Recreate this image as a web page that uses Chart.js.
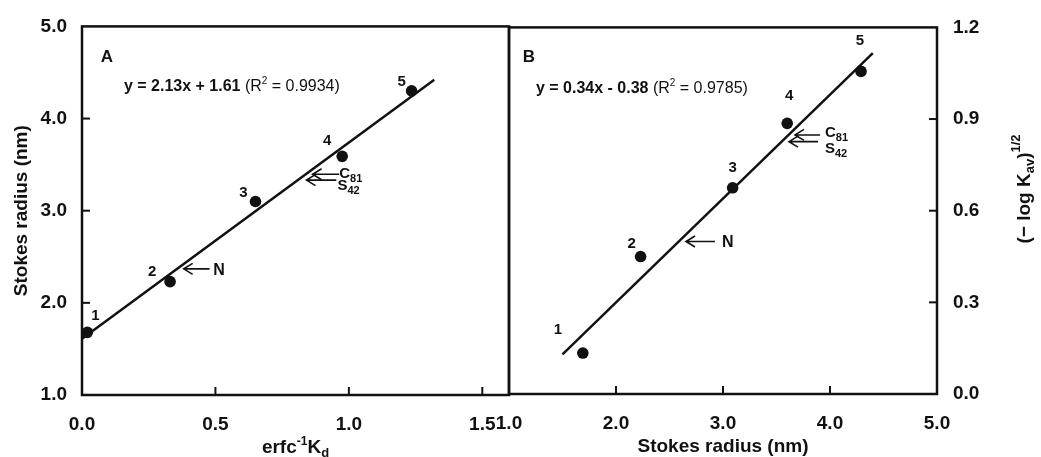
<!DOCTYPE html>
<html>
<head>
<meta charset="utf-8">
<script src="https://cdn.jsdelivr.net/npm/chart.js@4.4.1/dist/chart.umd.min.js"></script>
<style>
html, body { margin: 0; padding: 0; background: #fff; }
#wrap { position: relative; width: 1041px; height: 457px; }
canvas { position: absolute; left: 0; top: 0; }
</style>
</head>
<body>
<div id="wrap">
  <canvas id="chartA" width="1041" height="457"></canvas>
  <canvas id="chartB" width="1041" height="457"></canvas>
</div>
<script>
// **Data: panel A (Stokes radius vs erfc-1 Kd)**
const pointNames = ["1", "2", "3", "4", "5"];
const erfcKd = [0.02, 0.33, 0.65, 0.975, 1.235];
const stokesA = [1.68, 2.23, 3.10, 3.59, 4.30];
const fitAx = [0, 1.32];
const fitAy = [1.61, 4.42];
const xTicksA = [0, 0.5, 1.0, 1.5];
const yTicksA = [1, 2, 3, 4, 5];

// **Data: panel B ((-log Kav)^1/2 vs Stokes radius)**
const stokesB = [1.69, 2.23, 3.09, 3.60, 4.29];
const logKav = [0.134, 0.45, 0.675, 0.886, 1.056];
const fitBx = [1.5, 4.4];
const fitBy = [0.13, 1.116];
const xTicksB = [1, 2, 3, 4, 5];
const yTicksB = [0, 0.3, 0.6, 0.9, 1.2];

const FAMILY = '"Liberation Sans", Arial, Helvetica, sans-serif';
const INK = "#111";
Chart.defaults.font.family = FAMILY;
Chart.defaults.color = INK;

// draw a run of text pieces (bold / sub / sup) starting at x, baseline y
function drawRich(ctx, parts, x, y, align) {
    let widths = parts.map(p => {
        ctx.font = (p.bold ? "bold " : "") + p.size + "px " + FAMILY;
        return ctx.measureText(p.t).width;
    });
    let total = widths.reduce((a, b) => a + b, 0);
    let cx = align === "center" ? x - total / 2 : x;
    ctx.textAlign = "left";
    ctx.textBaseline = "alphabetic";
    parts.forEach((p, i) => {
        ctx.font = (p.bold ? "bold " : "") + p.size + "px " + FAMILY;
        ctx.fillText(p.t, cx, y + (p.dy || 0));
        cx += widths[i];
    });
}

function drawArrow(ctx, x1, x2, y) {
    ctx.beginPath();
    ctx.moveTo(x2, y);
    ctx.lineTo(x1, y);
    ctx.moveTo(x1 + 9, y - 5.5);
    ctx.lineTo(x1, y);
    ctx.lineTo(x1 + 9, y + 5.5);
    ctx.stroke();
}

function panelPlugin(cfg) {
    return {
        id: "panel" + cfg.name,
        afterDatasetsDraw(chart) {
            const ctx = chart.ctx;
            const { left, top, right, bottom } = chart.chartArea;
            const xs = chart.scales.x, ys = chart.scales.y;
            ctx.save();
            ctx.strokeStyle = INK;
            ctx.fillStyle = INK;

            // frame
            ctx.lineWidth = 2.5;
            ctx.strokeRect(left, top, right - left, bottom - top);

            // inward ticks
            ctx.lineWidth = 2;
            xs.ticks.forEach(t => {
                if (t.value === xs.min || t.value === xs.max) return;
                let px = xs.getPixelForValue(t.value);
                ctx.beginPath(); ctx.moveTo(px, bottom); ctx.lineTo(px, bottom - 8); ctx.stroke();
            });
            ys.ticks.forEach(t => {
                if (t.value === ys.min || t.value === ys.max) return;
                let py = ys.getPixelForValue(t.value);
                let x0 = cfg.yRight ? right : left;
                let x1 = cfg.yRight ? right - 8 : left + 8;
                ctx.beginPath(); ctx.moveTo(x0, py); ctx.lineTo(x1, py); ctx.stroke();
            });

            // point numbers
            ctx.font = "bold 15px " + FAMILY;
            ctx.textAlign = "center";
            ctx.textBaseline = "middle";
            cfg.px.forEach((v, i) => {
                let off = cfg.labelOffsets[i];
                ctx.fillText(pointNames[i], xs.getPixelForValue(v) + off[0], ys.getPixelForValue(cfg.py[i]) + off[1]);
            });

            // panel letter
            ctx.font = "bold 17px " + FAMILY;
            ctx.fillText(cfg.letter.t, xs.getPixelForValue(cfg.letter.x), ys.getPixelForValue(cfg.letter.y));

            // arrows
            ctx.lineWidth = 1.6;
            cfg.arrows.forEach(a => {
                drawArrow(ctx, xs.getPixelForValue(a.x1), xs.getPixelForValue(a.x2), ys.getPixelForValue(a.y));
            });

            // rich texts (y = caps centre)
            cfg.texts.forEach(tx => {
                let size = tx.parts[0].size;
                drawRich(ctx, tx.parts, xs.getPixelForValue(tx.x), ys.getPixelForValue(tx.y) + size * 0.36, "left");
            });

            // extra axis titles in pixels
            if (cfg.extra) cfg.extra(ctx, chart);
            ctx.restore();
        }
    };
}

function tickFont() { return { size: 19, weight: "bold" }; }

// **Panel A**
new Chart(document.getElementById("chartA"), {
    type: "scatter",
    data: {
        datasets: [
            {
                data: erfcKd.map((x, i) => ({ x: x, y: stokesA[i] })),
                pointRadius: 5.8, pointBackgroundColor: INK, pointBorderWidth: 0, clip: false
            },
            {
                data: fitAx.map((x, i) => ({ x: x, y: fitAy[i] })),
                showLine: true, pointRadius: 0, borderColor: INK, borderWidth: 2.5, clip: false
            }
        ]
    },
    options: {
        responsive: false,
        animation: false,
        events: [],
        layout: { padding: { left: 0, right: 532, top: 21, bottom: 0 } },
        plugins: { legend: { display: false }, tooltip: { enabled: false } },
        scales: {
            x: {
                type: "linear", position: "bottom", min: 0, max: 1.6,
                afterBuildTicks: s => { s.ticks = xTicksA.map(v => ({ value: v })); },
                afterFit: s => { s.height = 62; },
                grid: { display: false, drawTicks: false },
                border: { display: false },
                ticks: { autoSkip: false, maxRotation: 0, padding: 18, color: INK, font: tickFont(), callback: v => v.toFixed(1) }
            },
            y: {
                type: "linear", position: "left", min: 1, max: 5,
                afterBuildTicks: s => { s.ticks = yTicksA.map(v => ({ value: v })); },
                afterFit: s => { s.width = 82; },
                grid: { display: false, drawTicks: false },
                border: { display: false },
                ticks: { autoSkip: false, padding: 15, color: INK, font: tickFont(), callback: v => v.toFixed(1) },
                title: { display: true, text: "Stokes radius (nm)", color: INK, font: { size: 19, weight: "bold", lineHeight: 1 }, padding: { top: 12, bottom: 0 } }
            }
        }
    },
    plugins: [panelPlugin({
        name: "A",
        px: erfcKd, py: stokesA,
        labelOffsets: [[8, -16], [-18, -10], [-12, -9], [-15, -15], [-10, -9]],
        letter: { t: "A", x: 0.093, y: 4.668 },
        arrows: [
            { x1: 0.864, x2: 0.964, y: 3.396 },
            { x1: 0.841, x2: 0.953, y: 3.332 },
            { x1: 0.381, x2: 0.478, y: 2.369 }
        ],
        texts: [
            { x: 0.157, y: 4.358, parts: [
                { t: "y = 2.13x + 1.61", size: 16, bold: true },
                { t: " (R", size: 16 }, { t: "2", size: 10, dy: -7 }, { t: " = 0.9934)", size: 16 }
            ] },
            { x: 0.964, y: 3.417, parts: [{ t: "C", size: 15, bold: true }, { t: "81", size: 11, bold: true, dy: 4 }] },
            { x: 0.957, y: 3.278, parts: [{ t: "S", size: 15, bold: true }, { t: "42", size: 11, bold: true, dy: 4 }] },
            { x: 0.492, y: 2.369, parts: [{ t: "N", size: 16, bold: true }] }
        ],
        extra: (ctx, chart) => {
            const { left, right } = chart.chartArea;
            drawRich(ctx, [
                { t: "erfc", size: 19, bold: true },
                { t: "-1", size: 12, bold: true, dy: -8 },
                { t: "K", size: 19, bold: true },
                { t: "d", size: 13, bold: true, dy: 4 }
            ], (left + right) / 2, 453, "center");
        }
    })]
});

// **Panel B**
new Chart(document.getElementById("chartB"), {
    type: "scatter",
    data: {
        datasets: [
            {
                data: stokesB.map((x, i) => ({ x: x, y: logKav[i] })),
                pointRadius: 5.8, pointBackgroundColor: INK, pointBorderWidth: 0, clip: false
            },
            {
                data: fitBx.map((x, i) => ({ x: x, y: fitBy[i] })),
                showLine: true, pointRadius: 0, borderColor: INK, borderWidth: 2.5, clip: false
            }
        ]
    },
    options: {
        responsive: false,
        animation: false,
        events: [],
        layout: { padding: { left: 509, right: 0, top: 19, bottom: 0 } },
        plugins: { legend: { display: false }, tooltip: { enabled: false } },
        scales: {
            x: {
                type: "linear", position: "bottom", min: 1, max: 5,
                afterBuildTicks: s => { s.ticks = xTicksB.map(v => ({ value: v })); },
                afterFit: s => { s.height = 63; },
                grid: { display: false, drawTicks: false },
                border: { display: false },
                ticks: { autoSkip: false, maxRotation: 0, padding: 18, color: INK, font: tickFont(), callback: v => v.toFixed(1) },
                title: { display: true, text: "Stokes radius (nm)", color: INK, font: { size: 19, weight: "bold", lineHeight: 1 }, padding: { top: 0, bottom: 1 } }
            },
            y: {
                type: "linear", position: "right", min: 0, max: 1.2,
                afterBuildTicks: s => { s.ticks = yTicksB.map(v => ({ value: v })); },
                afterFit: s => { s.width = 104; },
                grid: { display: false, drawTicks: false },
                border: { display: false },
                ticks: { autoSkip: false, padding: 16, color: INK, font: tickFont(), callback: v => v.toFixed(1) }
            }
        }
    },
    plugins: [panelPlugin({
        name: "B",
        yRight: true,
        px: stokesB, py: logKav,
        labelOffsets: [[-25, -23], [-9, -13], [0, -20], [2, -27], [-1, -31]],
        letter: { t: "B", x: 1.187, y: 1.101 },
        arrows: [
            { x1: 3.673, x2: 3.907, y: 0.848 },
            { x1: 3.617, x2: 3.888, y: 0.826 },
            { x1: 2.654, x2: 2.925, y: 0.499 }
        ],
        texts: [
            { x: 1.252, y: 1.005, parts: [
                { t: "y = 0.34x - 0.38", size: 16, bold: true },
                { t: " (R", size: 16 }, { t: "2", size: 10, dy: -7 }, { t: " = 0.9785)", size: 16 }
            ] },
            { x: 3.953, y: 0.858, parts: [{ t: "C", size: 15, bold: true }, { t: "81", size: 11, bold: true, dy: 4 }] },
            { x: 3.953, y: 0.806, parts: [{ t: "S", size: 15, bold: true }, { t: "42", size: 11, bold: true, dy: 4 }] },
            { x: 2.99, y: 0.499, parts: [{ t: "N", size: 16, bold: true }] }
        ],
        extra: (ctx, chart) => {
            ctx.save();
            ctx.translate(1030, 189);
            ctx.rotate(-Math.PI / 2);
            drawRich(ctx, [
                { t: "(\u2212 log K", size: 19, bold: true },
                { t: "av", size: 13, bold: true, dy: 4 },
                { t: ")", size: 19, bold: true },
                { t: "1/2", size: 13, bold: true, dy: -10 }
            ], 0, 0, "center");
            ctx.restore();
        }
    })]
});
</script>
</body>
</html>
